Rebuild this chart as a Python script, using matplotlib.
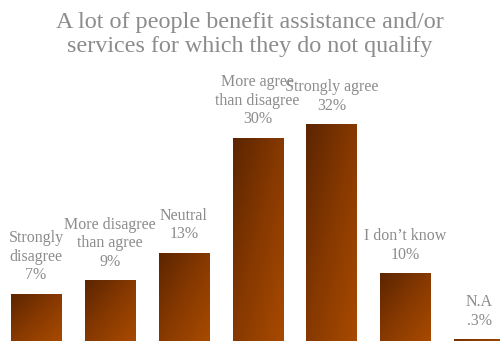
import numpy as np
import matplotlib
matplotlib.use("Agg")
import matplotlib.pyplot as plt
from matplotlib.colors import LinearSegmentedColormap

# survey answers and their shares (%)
categories = ["Strongly\ndisagree", "More disagree\nthan agree", "Neutral",
              "More agree\nthan disagree", "Strongly agree", "I don\u2019t know", "N.A"]
values = [7, 9, 13, 30, 32, 10, 0.3]
value_labels = ["7%", "9%", "13%", "30%", "32%", "10%", ".3%"]

title = "A lot of people benefit assistance and/or\nservices for which they do not qualify"

plt.rcParams['font.family'] = ['Liberation Serif', 'DejaVu Serif']
grey = '#8c8c8c'

fig = plt.figure(figsize=(5, 3.41), dpi=100)
ax = fig.add_axes([0, 0, 1, 1])
ax.set_xlim(-0.487, 6.279)
ax.set_ylim(0, 50.3)
ax.axis('off')

cmap = LinearSegmentedColormap.from_list('bar', ['#5c2500', '#873900', '#a84a00'])

# diagonal gradient, dark at the top-left corner, bright at the bottom-right
u = np.linspace(0, 1, 64)
v = np.linspace(1, 0, 128)
uu, vv = np.meshgrid(u, v)
grad = (uu + (1 - vv)) / 2

bars = ax.bar(range(len(values)), values, width=0.68, facecolor='none', edgecolor='none')
for bar in bars:
    x0, y0 = bar.get_x(), bar.get_y()
    w, h = bar.get_width(), bar.get_height()
    im = ax.imshow(grad, extent=(x0, x0 + w, y0, y0 + h), cmap=cmap, vmin=0, vmax=1,
                   aspect='auto', interpolation='bilinear', zorder=2)
    im.set_clip_path(bar)

for i, (cat, val, lab) in enumerate(zip(categories, values, value_labels)):
    ax.annotate(cat + "\n" + lab, xy=(i, val), xytext=(0, 7.5), textcoords='offset points',
                ha='center', va='bottom', fontsize=11.5, color=grey, linespacing=1.2,
                zorder=3)

fig.text(0.5, 0.965, title, ha='center', va='top', fontsize=17.4, color=grey,
         linespacing=1.2)

fig.savefig('out.png', dpi=100)
